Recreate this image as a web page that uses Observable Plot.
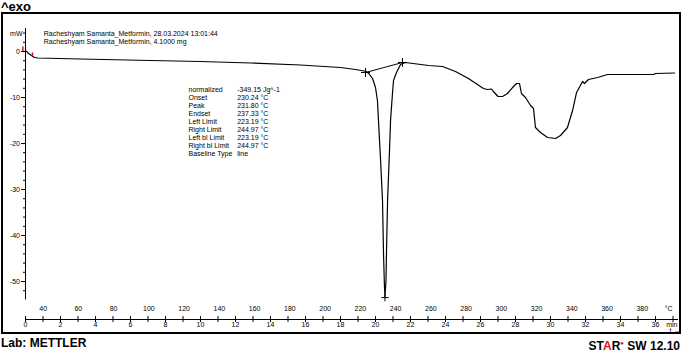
<!DOCTYPE html>
<html>
<head>
<meta charset="utf-8">
<script src="https://cdn.jsdelivr.net/npm/d3@7"></script>
<script src="https://cdn.jsdelivr.net/npm/@observablehq/plot@0.6"></script>
<style>
html, body { margin: 0; padding: 0; background: #fff; }
#page { position: relative; width: 683px; height: 352px; overflow: hidden; font-family: "Liberation Sans", Arial, sans-serif; color: #000; }
#exo { position: absolute; left: 1px; top: 0px; font-weight: bold; font-size: 13px; line-height: 13px; }
#box { position: absolute; left: 1px; top: 12px; width: 680px; height: 322px; box-sizing: border-box; border: 2px solid #000; }
#chart { position: absolute; left: 0; top: 13px; }
#lab { position: absolute; left: 1px; top: 336px; font-weight: bold; font-size: 12px; line-height: 15px; }
#star { position: absolute; right: 3px; top: 336px; font-weight: bold; font-size: 12px; line-height: 15px; }
#star .r { color: #e0101a; }
#star .e { color: #e0101a; font-size: 6px; vertical-align: 5px; }
</style>
</head>
<body>
<div id="page">
  <div id="exo">^exo</div>
  <div id="box"></div>
  <div id="chart"></div>
  <div id="lab">Lab: METTLER</div>
  <div id="star">ST<span class="r">A</span>R<span class="e">&#9679;</span> SW 12.10</div>
</div>
<script>
// ---------- data ----------
// time in minutes, heat flow in mW
const timeMin = [0, 0.17, 0.34, 0.51, 0.74, 3.14, 7.14, 10.0, 12.86, 15.71, 18.0, 18.86, 19.43, 19.6,
  19.83, 20.0, 20.11, 20.17, 20.29, 20.40, 20.46, 20.51, 20.54, 20.6, 20.63, 20.69, 20.8, 20.86, 20.97,
  21.03, 21.2, 21.43, 21.71, 23.03, 23.83, 24.57, 25.31, 26.17, 26.4, 26.63, 26.74, 27.0, 27.26, 27.54,
  27.83, 28.06, 28.23, 28.34, 28.57, 28.86, 29.03, 29.14, 29.43, 29.83, 30.29, 30.57, 30.97, 31.26,
  31.49, 31.83, 31.94, 32.17, 32.69, 33.26, 35.89, 36.0, 37.09];
const heatFlow = [0.22, -0.43, -0.87, -1.3, -1.41, -1.63, -1.96, -2.17, -2.5, -2.93, -3.48, -3.91, -4.3, -4.7,
  -5.87, -7.83, -10.65, -15.0, -23.7, -32.4, -44.3, -50.9, -53.3, -49.8, -43.3, -32.4, -21.5, -15.0, -9.13,
  -6.3, -4.57, -2.83, -2.39, -3.04, -3.26, -4.35, -5.87, -8.04, -8.26, -8.15, -8.7, -9.78, -9.78, -9.13,
  -7.83, -6.96, -6.96, -9.13, -10.0, -11.74, -12.39, -16.52, -17.61, -18.7, -18.91, -18.26, -16.52, -12.83,
  -8.91, -6.52, -6.96, -6.09, -5.65, -5.0, -5.0, -4.78, -4.67];

// integration limits (left / right) and peak
const limitTime = [19.43, 21.54];
const limitFlow = [-4.57, -2.39];
const peakTime = [20.54];
const peakFlow = [-53.5];

// red start markers
const redMarkTime = [-0.15, 0.4];
const redMarkTop = [1.0, -0.3];
const redMarkBottom = [0.0, -1.1];

// axes
const timeTicks = d3.range(0, 38, 1);
const timeLabels = d3.range(0, 37, 2);
const tempLabels = [40, 60, 80, 100, 120, 140, 160, 180, 200, 220, 240, 260, 280, 300, 320, 340, 360, 380];
const tempStart = 30, tempRate = 9.93; // °C at t=0, °C per min
const yMajor = [0, -10, -20, -30, -40, -50];
const yMinor = [4, 2, -2, -4, -6, -8, -12, -14, -16, -18, -22, -24, -26, -28, -32, -34, -36, -38, -42, -44, -46, -48, -52];

// texts
const headerLines = ["Racheshyam Samanta_Metformin, 28.03.2024 13:01:44", "Racheshyam Samanta_Metformin, 4.1000 mg"];
const statNames = ["normalized", "Onset", "Peak", "Endset", "Left Limit", "Right Limit", "Left bl Limit", "Right bl Limit", "Baseline Type"];
const statValues = ["-349.15 Jg^-1", "230.24 °C", "231.80 °C", "237.33 °C", "223.19 °C", "244.97 °C", "223.19 °C", "244.97 °C", "line"];

// ---------- build ----------
const curve = timeMin.map((t, i) => ({t, mW: heatFlow[i]}));
const limits = limitTime.map((t, i) => ({t, mW: limitFlow[i]}));
const peak = peakTime.map((t, i) => ({t, mW: peakFlow[i]}));
const redMarks = redMarkTime.map((t, i) => ({t, y1: redMarkTop[i], y2: redMarkBottom[i]}));
const tempToTime = T => (T - tempStart) / tempRate;

const yDomain = [-58.26, 5];
const ink = "#000";

const chart = Plot.plot({
  width: 683,
  height: 322,
  marginLeft: 25,
  marginRight: 5,
  marginTop: 15,
  marginBottom: 16,
  x: {domain: [0, 37.314], axis: null},
  y: {domain: yDomain, axis: null},
  style: {fontFamily: "'Liberation Sans', Arial, sans-serif", fontSize: "7px", background: "transparent", color: ink, overflow: "visible"},
  marks: [
    // x axis
    Plot.ruleY([yDomain[0]], {stroke: ink, strokeWidth: 1}),
    Plot.axisX({ticks: timeTicks, tickSize: 6, dy: -3, tickFormat: () => "", stroke: ink}),
    Plot.text(timeLabels, {x: d => d, text: d => String(d), frameAnchor: "bottom", dy: 7, fill: ink}),
    Plot.text(tempLabels, {x: d => tempToTime(d), text: d => String(d), frameAnchor: "bottom", dy: -8.5, fill: ink}),
    Plot.text(["°C"], {frameAnchor: "bottom-right", dx: -6, dy: -8.5, fill: ink}),
    Plot.text(["min"], {frameAnchor: "bottom-right", dx: -1, dy: 7, textAnchor: "end", fill: ink}),
    // y axis
    Plot.ruleX([0], {y1: 5, y2: -54, stroke: ink, strokeWidth: 1}),
    Plot.axisY({ticks: yMajor, tickSize: 4, tickPadding: 1.5, tickFormat: d => String(d), stroke: ink, fill: ink}),
    Plot.axisY({ticks: yMinor, tickSize: 2, tickFormat: () => "", stroke: ink}),
    Plot.text(["mW"], {frameAnchor: "top-left", dx: -3, dy: 3, textAnchor: "end", fill: ink}),
    // header text
    Plot.text([headerLines.join("\n")], {frameAnchor: "top-left", dx: 18.3, dy: 1.2, textAnchor: "start", lineAnchor: "top", lineHeight: 1.186, fill: ink}),
    // stats block
    Plot.text([statNames.join("\n")], {frameAnchor: "top-left", dx: 163, dy: 57.3, textAnchor: "start", lineAnchor: "top", lineHeight: 1.149, fill: ink}),
    Plot.text([statValues.join("\n")], {frameAnchor: "top-left", dx: 211.7, dy: 57.3, textAnchor: "start", lineAnchor: "top", lineHeight: 1.149, fill: ink}),
    // curve
    Plot.line(curve, {x: "t", y: "mW", stroke: ink, strokeWidth: 1.2}),
    // baseline between limits
    Plot.line(limits, {x: "t", y: "mW", stroke: ink, strokeWidth: 1}),
    Plot.dot(limits, {x: "t", y: "mW", symbol: "plus", r: 3, stroke: ink, strokeWidth: 1}),
    Plot.dot(peak, {x: "t", y: "mW", symbol: "plus", r: 2.5, stroke: ink, strokeWidth: 1}),
    // red markers
    Plot.ruleX(redMarks, {x: "t", y1: "y1", y2: "y2", stroke: "#e0101a", strokeWidth: 1.5})
  ]
});
document.getElementById("chart").appendChild(chart);
</script>
</body>
</html>
